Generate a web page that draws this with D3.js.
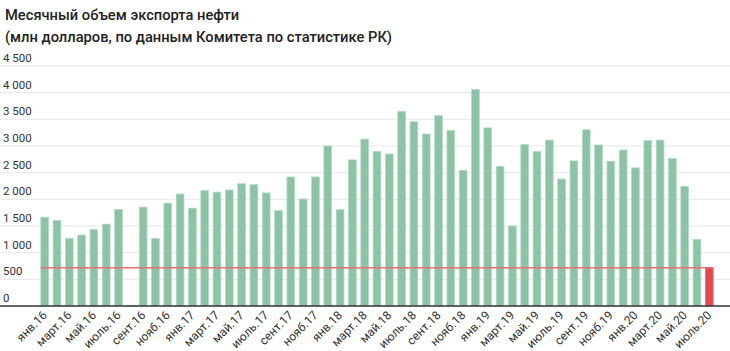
<!DOCTYPE html>
<html>
<head>
<meta charset="utf-8">
<script src="https://cdn.jsdelivr.net/npm/d3@7"></script>
<style>
  body { margin: 0; background: #fff; }
  svg { display: block; font-family: Roboto, "Noto Sans", sans-serif; }
</style>
</head>
<body>
<svg id="chart"></svg>
<script>
// месяцы (янв.16 – июль.20), подпись у каждого второго
const monthNames = ["янв", "фев", "март", "апр", "май", "июнь", "июль", "авг", "сент", "окт", "нояб", "дек"];
const years = ["16", "17", "18", "19", "20"];
const months = [];
years.forEach(y => monthNames.forEach(m => months.push(m + "." + y)));
months.splice(55);

// объем экспорта нефти, млн долларов
const values = [
  1665, 1605, 1270, 1330, 1435, 1535, 1810, 15, 1855, 1265, 1930, 2100,
  1835, 2165, 2135, 2175, 2295, 2275, 2120, 1790, 2420, 2005, 2420, 3000,
  1805, 2740, 3130, 2900, 2850, 3650, 3455, 3225, 3570, 3295, 2545, 4060,
  3340, 2620, 1500, 3030, 2895, 3110, 2380, 2720, 3305, 3020, 2715, 2925,
  2590, 3105, 3110, 2765, 2240, 1250, 718
];

const yTicks = [0, 500, 1000, 1500, 2000, 2500, 3000, 3500, 4000, 4500];

const W = 730, H = 351;
const svg = d3.select("#chart").attr("width", W).attr("height", H);

const y = d3.scaleLinear().domain([0, 4500]).range([306, 66]);
const x = d3.scaleBand()
  .domain(months)
  .range([38.6, 715.4])
  .paddingInner(0.37)
  .paddingOuter(0.18);

// заголовок
svg.append("text")
  .attr("x", 5).attr("y", 20)
  .style("font-size", "14.7px").style("font-weight", 500).style("fill", "#222")
  .text("Месячный объем экспорта нефти");
svg.append("text")
  .attr("x", 5).attr("y", 42)
  .style("font-size", "14.7px").style("font-weight", 500).style("fill", "#222")
  .text("(млн долларов, по данным Комитета по статистике РК)");

// сетка и подписи оси Y
const grid = svg.append("g");
grid.selectAll("line")
  .data(yTicks.filter(d => d > 0))
  .enter().append("line")
  .attr("x1", 0).attr("x2", W)
  .attr("y1", d => y(d)).attr("y2", d => y(d))
  .attr("stroke", "#e6e6e6").attr("stroke-width", 1);
grid.selectAll("text")
  .data(yTicks)
  .enter().append("text")
  .attr("x", 3).attr("y", d => y(d) - 4)
  .style("font-size", "11.5px").style("fill", "#333")
  .text(d => d3.format(",")(d).replace(",", " "));

// столбцы
const last = months[months.length - 1];
svg.selectAll("rect.bar")
  .data(months.map((m, i) => ({ m, v: values[i] })))
  .enter().append("rect")
  .attr("class", "bar")
  .attr("x", d => x(d.m))
  .attr("width", x.bandwidth())
  .attr("y", d => y(d.v))
  .attr("height", d => y(0) - y(d.v))
  .attr("fill", d => d.m === last ? "#df4a4f" : "#8cc2a5")
  .attr("stroke", d => d.m === last ? "#e86a6e" : "#b3dbc4")
  .attr("stroke-width", 0.8);

// линия текущего уровня
const lastVal = values[values.length - 1];
svg.append("line")
  .attr("x1", x(months[0])).attr("x2", x(last) + x.bandwidth())
  .attr("y1", y(lastVal)).attr("y2", y(lastVal))
  .attr("stroke", "#ea6f72").attr("stroke-width", 1.5);

// ось X
svg.append("line")
  .attr("x1", 0).attr("x2", W)
  .attr("y1", y(0)).attr("y2", y(0))
  .attr("stroke", "#333").attr("stroke-width", 1.3);

svg.append("g").selectAll("text")
  .data(months.filter((m, i) => i % 2 === 0))
  .enter().append("text")
  .attr("transform", d => `translate(${x(d) + x.bandwidth() / 2 + 3},316) rotate(-45)`)
  .attr("text-anchor", "end")
  .style("font-size", "12px").style("fill", "#333")
  .text(d => d);
</script>
</body>
</html>
